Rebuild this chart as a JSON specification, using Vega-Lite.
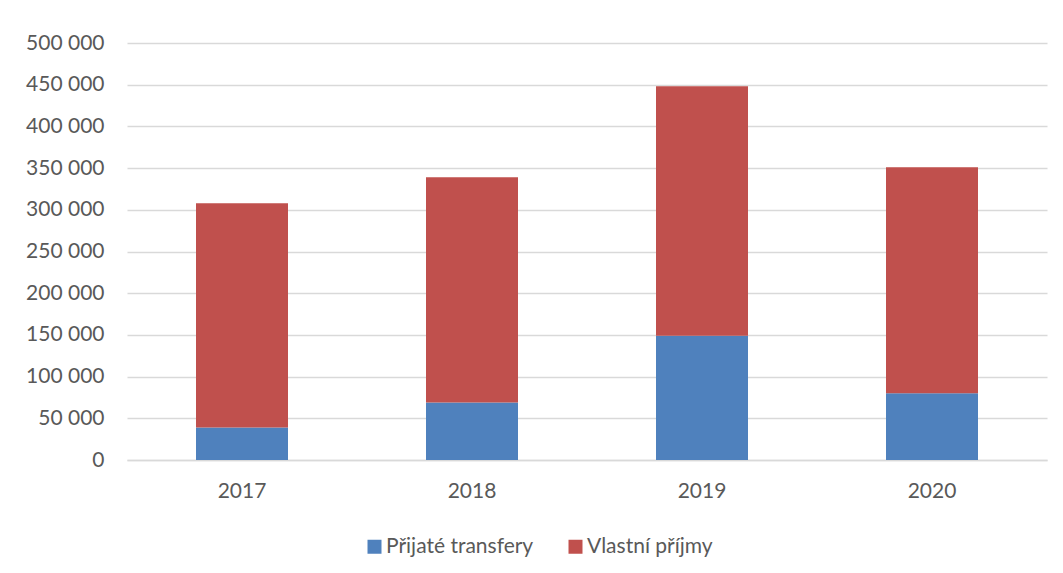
{
  "$schema": "https://vega.github.io/schema/vega-lite/v6.json",
  "width": 920,
  "height": 417,
  "autosize": {"type": "none"},
  "padding": {"left": 127, "top": 43, "right": 16, "bottom": 113},
  "background": "white",
  "config": {
    "locale": {"number": {"decimal": ",", "thousands": " ", "grouping": [3], "currency": ["", " Kč"]}},
    "view": {"stroke": null},
    "font": "Lato"
  },
  "data": {
    "values": [
      {"rok": "2017", "typ": "Přijaté transfery", "hodnota": 39000},
      {"rok": "2017", "typ": "Vlastní příjmy", "hodnota": 269000},
      {"rok": "2018", "typ": "Přijaté transfery", "hodnota": 69000},
      {"rok": "2018", "typ": "Vlastní příjmy", "hodnota": 270000},
      {"rok": "2019", "typ": "Přijaté transfery", "hodnota": 149000},
      {"rok": "2019", "typ": "Vlastní příjmy", "hodnota": 299000},
      {"rok": "2020", "typ": "Přijaté transfery", "hodnota": 80000},
      {"rok": "2020", "typ": "Vlastní příjmy", "hodnota": 271000}
    ]
  },
  "mark": {"type": "bar"},
  "encoding": {
    "x": {
      "field": "rok", "type": "nominal",
      "scale": {"paddingInner": 0.6, "paddingOuter": 0.3},
      "axis": {"title": null, "labelAngle": 0, "labelFontSize": 21, "labelColor": "#595959", "labelFont": "Lato",
               "domain": true, "domainColor": "#D9D9D9", "domainWidth": 1.3, "ticks": false, "labelPadding": 20}
    },
    "y": {
      "field": "hodnota", "type": "quantitative", "stack": "zero",
      "scale": {"domain": [0, 500000]},
      "axis": {"title": null, "values": [0, 50000, 100000, 150000, 200000, 250000, 300000, 350000, 400000, 450000, 500000],
               "format": ",d", "labelFontSize": 21, "labelColor": "#595959", "labelFont": "Lato",
               "domain": false, "ticks": false, "labelPadding": 23,
               "grid": true, "gridColor": "#D9D9D9", "gridWidth": 1.3}
    },
    "color": {
      "field": "typ", "type": "nominal",
      "scale": {"domain": ["Přijaté transfery", "Vlastní příjmy"], "range": ["#4F81BD", "#C0504D"]},
      "legend": {"title": null, "orient": "none", "direction": "horizontal", "legendX": 237, "legendY": 493,
                 "symbolType": "square", "symbolSize": 196, "symbolStrokeWidth": 0, "labelFontSize": 21,
                 "labelColor": "#595959", "labelFont": "Lato", "labelOffset": 1, "columnPadding": 31}
    },
    "order": {"field": "typ", "sort": "ascending"}
  }
}
